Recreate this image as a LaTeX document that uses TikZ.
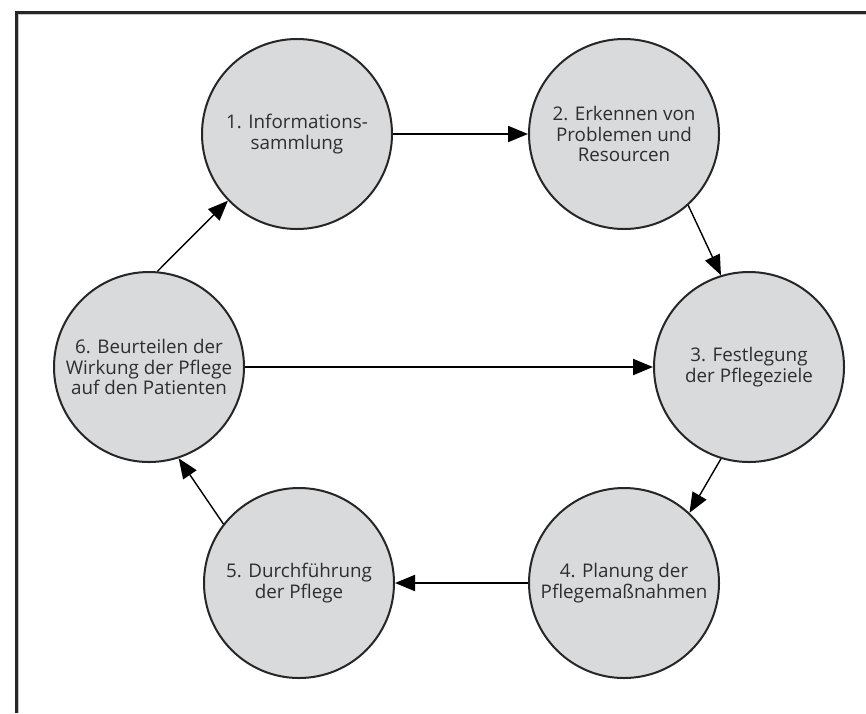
\documentclass[tikz,border=0pt]{standalone}
\usepackage{fontspec}
\setmainfont{Open Sans}
\usetikzlibrary{arrows.meta}

\definecolor{phasefill}{HTML}{D9DADC}
\definecolor{phasetext}{HTML}{2E2E2E}

\begin{document}
\begin{tikzpicture}[x=0.5pt,y=-0.5pt,
	phase/.style={circle, draw=black!85, line width=1pt, fill=phasefill,
		minimum size=95pt, inner sep=0pt, align=center, text=phasetext,
		font=\fontsize{9.4}{10.3}\selectfont},
	bigarrow/.style={line width=1pt, -{Triangle[length=10pt,width=8pt]}},
	smallarrow/.style={line width=0.7pt, -{Triangle[length=10pt,width=8pt]}}]
	\useasboundingbox (0,0) rectangle (866,713);
	% frame, only top and left edge visible
	\draw[line width=1.1pt, black!85] (16.5,713) -- (16.5,12.5) -- (866,12.5);
	\draw[line width=0.4pt, gray!45] (18.8,713) -- (18.8,14.8) -- (866,14.8);

	% the six phases
	\node[phase] (c1) at (297,134) {1. Informations-\\sammlung};
	\node[phase] (c2) at (624,134) {2. Erkennen von\\Problemen und\\Resourcen};
	\node[phase] (c3) at (749,367) {3. Festlegung\\der Pflegeziele};
	\node[phase] (c4) at (624,583) {4. Planung der\\Pflegema\ss nahmen};
	\node[phase] (c5) at (299,583) {5. Durchf\"uhrung\\der Pflege};
	\node[phase] (c6) at (149,367) {6. Beurteilen der\\Wirkung der Pflege\\auf den Patienten};

	% cycle
	\draw[bigarrow] (c1) -- (c2);
	\draw[smallarrow] (c2.-48) -- (c3.107);
	\draw[smallarrow] (c3.-107) -- (c4.47);
	\draw[bigarrow] (c4) -- (c5);
	\draw[smallarrow] (c5.142) -- (c6.-72);
	\draw[smallarrow] (c6.85) -- (c1.-136);
	\draw[bigarrow] (c6) -- (c3);
\end{tikzpicture}
\end{document}
